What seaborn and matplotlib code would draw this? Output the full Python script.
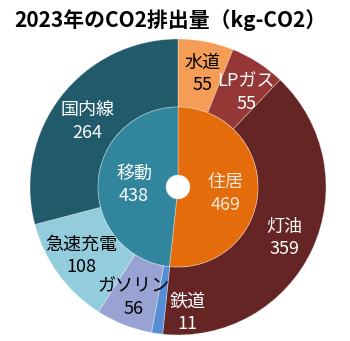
import matplotlib
matplotlib.use("Agg")
import matplotlib.pyplot as plt
import seaborn as sns
import numpy as np

sns.set_theme(style="white")
plt.rcParams['font.family'] = ['Noto Sans CJK JP', 'DejaVu Sans']

inner_labels = ["住居", "移動"]
inner_values = [469, 438]
inner_colors = ["#E46C0A", "#31859C"]
inner_text = ["#FDE9D9", "white"]

outer_labels = ["水道", "LPガス", "灯油", "鉄道", "ガソリン", "急速充電", "国内線"]
outer_values = [55, 55, 359, 11, 56, 108, 264]
outer_colors = ["#F59D56", "#953735", "#652524", "#558ED5", "#98A3D3", "#93CDDD", "#215A6A"]
outer_text = ["black", "white", "white", "white", "black", "black", "white"]

title = "2023年のCO2排出量（kg-CO2）"

# label nudges in pixels (dx, dy downwards)
outer_nudge = [(2, 2), (5, 4), (0, 2), (26, 10), (-2, 2), (-2, 0), (2, 6)]
inner_nudge = [(2, 4), (2, 0)]

fig = plt.figure(figsize=(3.5, 3.41), dpi=100)
ax = fig.add_axes([0, 0, 1, 1])

cx, cy = 178, 154
R_out, R_in, R_hole = 148, 80, 12

edge = (1, 1, 1, 0.35)
ax.pie(outer_values, colors=outer_colors, radius=R_out, center=(cx, cy),
       startangle=90, counterclock=False,
       wedgeprops=dict(width=R_out - R_in, edgecolor=edge, linewidth=0.6), frame=True)
ax.pie(inner_values, colors=inner_colors, radius=R_in, center=(cx, cy),
       startangle=90, counterclock=False,
       wedgeprops=dict(width=R_in - R_hole, edgecolor=edge, linewidth=0.6), frame=True)
ax.set_xlim(0, 350)
ax.set_ylim(0, 341)
ax.set_aspect("equal")
ax.axis("off")

def place(values, labels, tcolors, nudges, r):
    tot = sum(values)
    cum = 0
    for v, lab, tc, (dx, dy) in zip(values, labels, tcolors, nudges):
        mid = (cum + v / 2) / tot * 2 * np.pi
        cum += v
        x = cx + r * np.sin(mid) + dx
        y = cy + r * np.cos(mid) - dy
        ax.text(x, y, f"{lab}\n{v}", ha="center", va="center", color=tc,
                fontsize=13, linespacing=1.3)

place(outer_values, outer_labels, outer_text, outer_nudge, 117)
place(inner_values, inner_labels, inner_text, inner_nudge, 46)

fig.text(0.487, 0.94, title, ha="center", va="center", fontsize=15, fontweight="bold", color="black")

fig.savefig("out.png", dpi=100)
